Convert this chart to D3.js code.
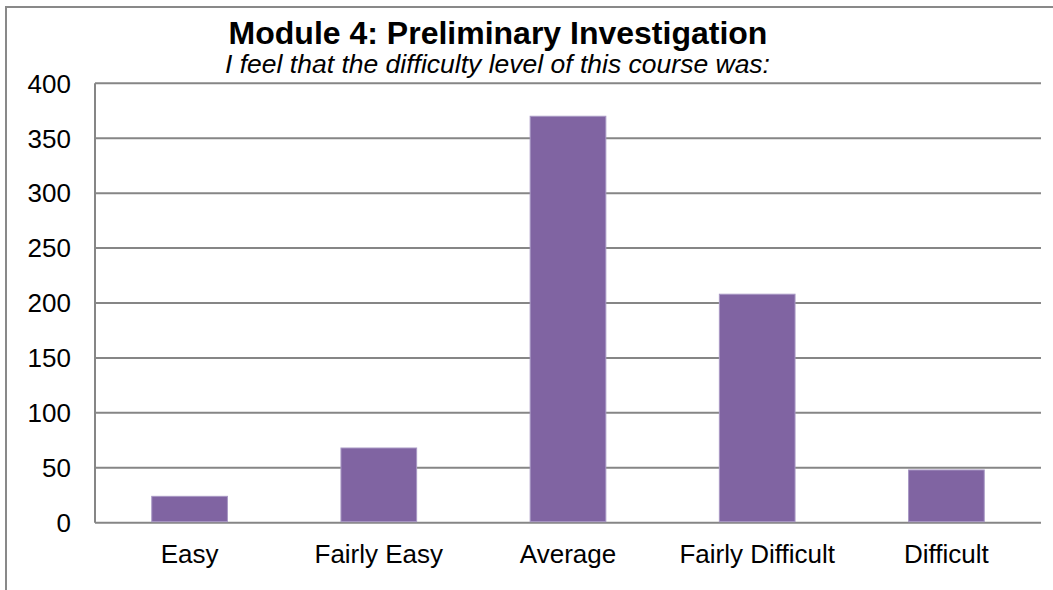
<!DOCTYPE html>
<html>
<head>
<meta charset="utf-8">
<script src="https://cdn.jsdelivr.net/npm/d3@7"></script>
<style>
  body { margin: 0; background: #fff; }
  svg text { font-family: Arial, "Liberation Sans", sans-serif; fill: #000; }
</style>
</head>
<body>
<div id="chart"></div>
<script>
// data
var categories = ["Easy", "Fairly Easy", "Average", "Fairly Difficult", "Difficult"];
var counts = [24, 68, 370, 208, 48];
var yTicks = [0, 50, 100, 150, 200, 250, 300, 350, 400];

var width = 1053,
    height = 590;
var margin = {top: 83.3, right: 12, bottom: 67.3, left: 95};

var svg = d3.select("#chart")
    .append("svg")
    .attr("width", width)
    .attr("height", height);

// chart frame (cut off at right and bottom)
svg.append("path")
    .attr("d", "M6,600 V7 H1060")
    .attr("fill", "none")
    .attr("stroke", "#898989")
    .attr("stroke-width", 2);

var x = d3.scaleBand()
    .domain(categories)
    .range([margin.left, width - margin.right])
    .paddingInner(0.6)
    .paddingOuter(0.3);

var y = d3.scaleLinear()
    .domain([0, 400])
    .range([height - margin.bottom, margin.top]);

// gridlines
svg.append("g")
    .selectAll("line")
    .data(yTicks)
    .enter()
    .append("line")
    .attr("x1", margin.left)
    .attr("x2", width - margin.right)
    .attr("y1", function (d) { return y(d); })
    .attr("y2", function (d) { return y(d); })
    .attr("stroke", "#868686")
    .attr("stroke-width", 2);

// y axis line
svg.append("line")
    .attr("x1", margin.left)
    .attr("x2", margin.left)
    .attr("y1", y(400))
    .attr("y2", y(0))
    .attr("stroke", "#868686")
    .attr("stroke-width", 2);

// bars
svg.append("g")
    .selectAll("rect")
    .data(counts)
    .enter()
    .append("rect")
    .attr("x", function (d, i) { return x(categories[i]); })
    .attr("width", x.bandwidth())
    .attr("y", function (d) { return y(d); })
    .attr("height", function (d) { return y(0) - y(d) - 1; })
    .attr("fill", "#8064a2")
    .attr("stroke", "#a898c4")
    .attr("stroke-width", 1);

// y tick labels
svg.append("g")
    .selectAll("text")
    .data(yTicks)
    .enter()
    .append("text")
    .attr("x", 71)
    .attr("y", function (d) { return y(d) + 9.3; })
    .attr("text-anchor", "end")
    .style("font-size", "26px")
    .text(function (d) { return d; });

// x labels
svg.append("g")
    .selectAll("text")
    .data(categories)
    .enter()
    .append("text")
    .attr("x", function (d) { return x(d) + x.bandwidth() / 2; })
    .attr("y", 563.3)
    .attr("text-anchor", "middle")
    .style("font-size", "26px")
    .text(function (d) { return d; });

// title + subtitle
svg.append("text")
    .attr("x", 498)
    .attr("y", 44.3)
    .attr("text-anchor", "middle")
    .style("font-size", "32px")
    .style("font-weight", "bold")
    .text("Module 4: Preliminary Investigation");

svg.append("text")
    .attr("x", 497.5)
    .attr("y", 73)
    .attr("text-anchor", "middle")
    .style("font-size", "26.5px")
    .style("font-style", "italic")
    .text("I feel that the difficulty level of this course was:");
</script>
</body>
</html>
